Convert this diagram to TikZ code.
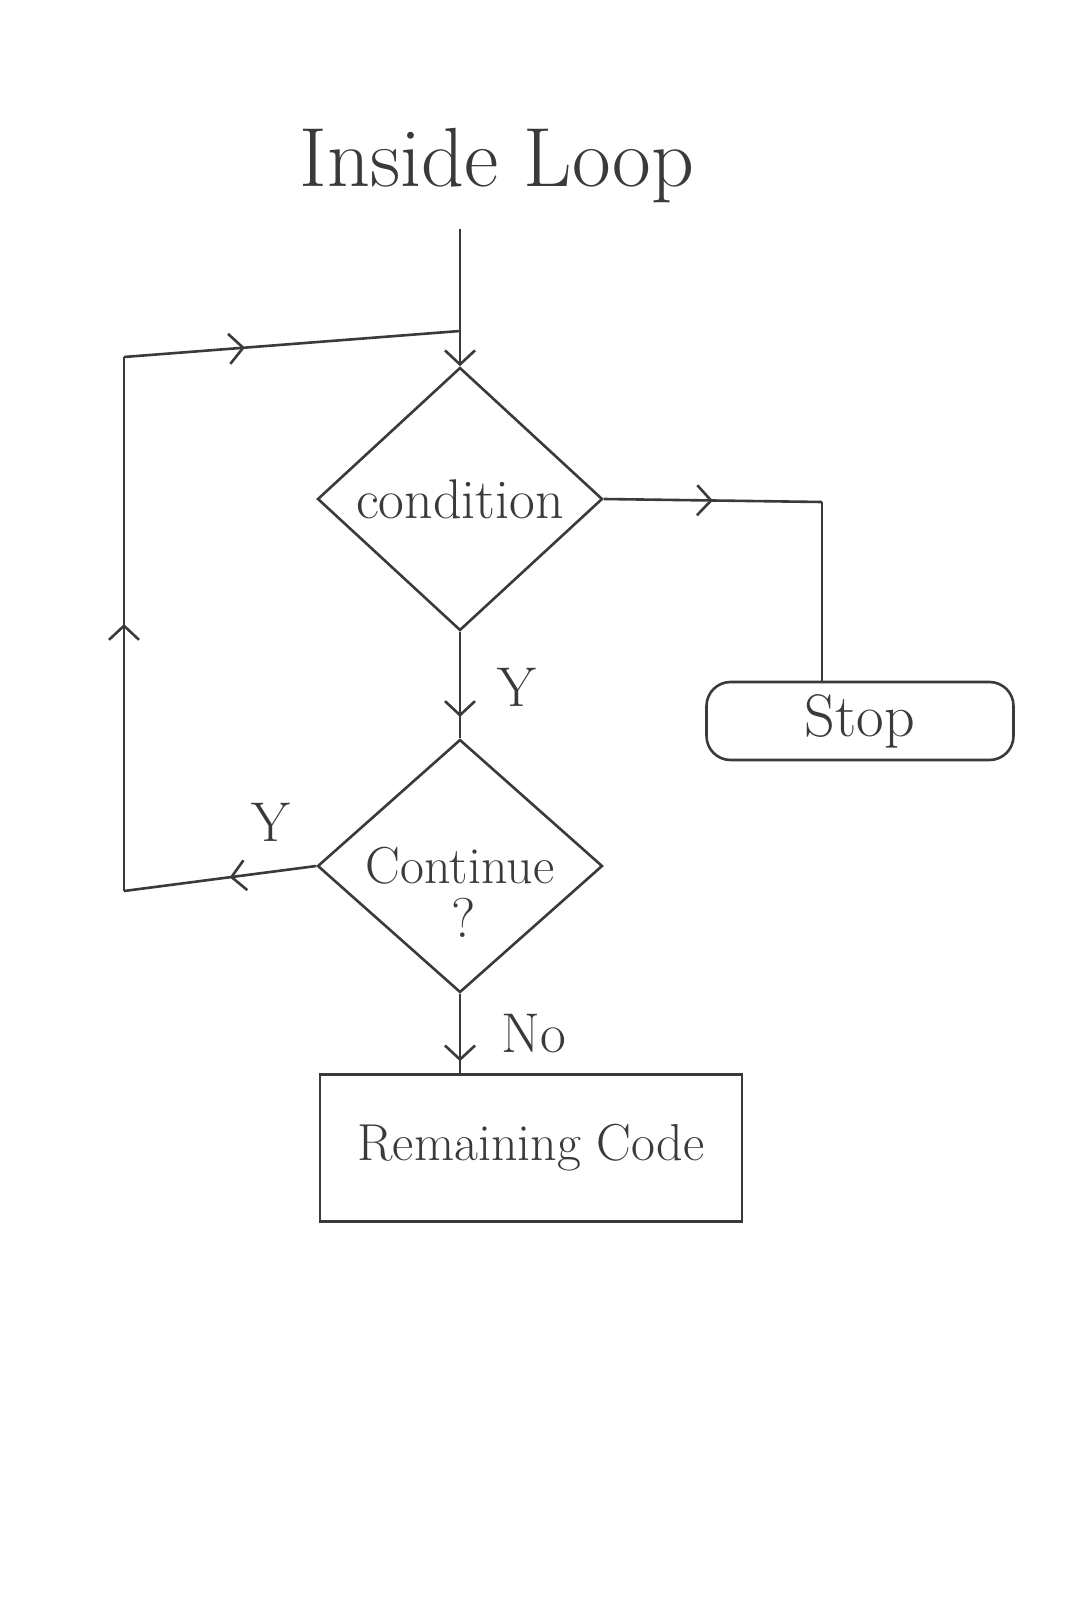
\documentclass[tikz,border=0pt]{standalone}
\usetikzlibrary{shapes.geometric,arrows.meta,decorations.markings}
\definecolor{pencil}{HTML}{3A3A3A}
\begin{document}
\begin{tikzpicture}[x=0.5pt,y=-0.5pt,line width=1.3pt,
  every path/.style={draw=pencil},
  barb/.tip={Straight Barb[length=7pt,width=15pt,line width=1.3pt]},
  midarrow/.style={postaction={decorate},decoration={markings,mark=at position #1 with {\arrow{barb}}}},
  dia/.style={diamond,draw=pencil,inner sep=0pt,text=pencil},
  box/.style={rectangle,draw=pencil,inner sep=0pt,text=pencil},
  lab/.style={text=pencil,font=\fontsize{28}{34}\selectfont}]
\useasboundingbox[fill=white,draw=none] (0,0) rectangle (1080,1620);
% nodes
\node[text=pencil,font=\fontsize{42}{50}\selectfont] (title) at (497,166) {Inside Loop};
\node[dia,minimum width=142.5pt,minimum height=131.5pt,font=\fontsize{28}{34}\selectfont] (cond) at (460,499) {condition};
\node[dia,minimum width=142.5pt,minimum height=126.5pt,font=\fontsize{26}{31}\selectfont] (cont) at (460,866) {Continue};
\node[text=pencil,font=\fontsize{28}{34}\selectfont] (q) at (464,918) {?};
\node[box,rounded corners=12pt,minimum width=153.5pt,minimum height=39pt,font=\fontsize{30}{36}\selectfont] (stop) at (860,721) {Stop};
\node[box,minimum width=211pt,minimum height=73.5pt,font=\fontsize{26}{31}\selectfont] (code) at (531,1148) {Remaining Code};
% coordinates
\coordinate (start) at (460,229);
\coordinate (join) at (460,331);
\coordinate (tl) at (124,357);
\coordinate (bl) at (124,891);
\coordinate (rt) at (822,502);
% connectors
\draw[-barb] (start) -- (cond.north);
\draw[midarrow=0.36] (tl) -- (join);
\draw[midarrow=0.5] (bl) -- (tl);
\draw[midarrow=0.45] (cont.west) -- (bl);
\draw[midarrow=0.5] (cond.east) -- (rt);
\draw (rt) -- (rt |- stop.north);
\draw[midarrow=0.8] (cond.south) -- (cont.north);
\draw[midarrow=0.85] (cont.south) -- (cont.south |- code.north);
% labels
\node[lab] (y1) at (517,687) {Y};
\node[lab] (y2) at (271,822) {Y};
\node[lab] (no) at (534,1034) {No};
\end{tikzpicture}
\end{document}
